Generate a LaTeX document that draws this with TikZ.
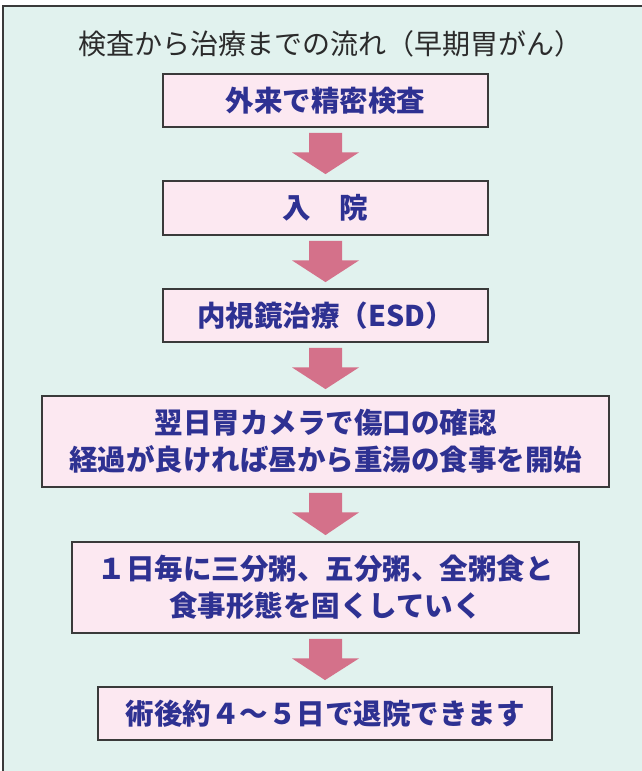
\documentclass[tikz,border=0pt]{standalone}
\usepackage{fontspec}
\setmainfont{Noto Sans CJK JP}
\usetikzlibrary{calc}
\definecolor{bgmint}{HTML}{E1F2EE}
\definecolor{boxpink}{HTML}{FCE8F1}
\definecolor{boxline}{HTML}{3A3A3A}
\definecolor{arrowrose}{HTML}{D4718A}
\definecolor{navytext}{HTML}{2E3192}
\definecolor{titletext}{HTML}{2B2B2B}
\tikzset{
  stepbox/.style={draw=boxline, line width=1.8pt, fill=boxpink, inner sep=0pt,
    text=navytext, font=\fontsize{28.5}{37}\selectfont\bfseries, align=center},
  titletextstyle/.style={text=titletext, font=\fontsize{28}{32}\selectfont, inner sep=0pt},
  blockarrow/.style={fill=arrowrose},
}
\newcommand{\flowarrow}[2]{%
  \fill[blockarrow] ($(#1.south)+(-16.5,5)$) -- ($(#1.south)+(16.5,5)$)
    -- ($(#1.south)+(16.5,24.5)$) -- ($(#1.south)+(33.5,24.5)$)
    -- ($(#2.north)+(0,-6)$)
    -- ($(#1.south)+(-33.5,24.5)$) -- ($(#1.south)+(-16.5,24.5)$) -- cycle;}
\begin{document}
\begin{tikzpicture}[x=1pt,y=-1pt]
\useasboundingbox (0,0) rectangle (642,771);
\fill[white] (0,0) rectangle (642,771);
\draw[draw=boxline, line width=1.8pt, fill=bgmint] (3,6) rectangle (660,790);
\node[titletextstyle] (title) at (330,43.5) {検査から治療までの流れ（早期胃がん）};
\node[stepbox, minimum width=325, minimum height=53] (b1) at (325.5,100.5) {外来で精密検査};
\node[stepbox, minimum width=325, minimum height=54] (b2) at (325.5,208) {入　院};
\node[stepbox, minimum width=325, minimum height=53] (b3) at (325.5,315.5) {内視鏡治療（ESD）};
\node[stepbox, minimum width=567, minimum height=91] (b4) at (325.5,441.5) {翌日胃カメラで傷口の確認\\経過が良ければ昼から重湯の食事を開始};
\node[stepbox, minimum width=507, minimum height=91] (b5) at (325.5,587.5) {１日毎に三分粥、五分粥、全粥食と\\食事形態を固くしていく};
\node[stepbox, minimum width=454, minimum height=53] (b6) at (325,713.5) {術後約４～５日で退院できます};
\flowarrow{b1}{b2}
\flowarrow{b2}{b3}
\flowarrow{b3}{b4}
\flowarrow{b4}{b5}
\flowarrow{b5}{b6}
\end{tikzpicture}
\end{document}
